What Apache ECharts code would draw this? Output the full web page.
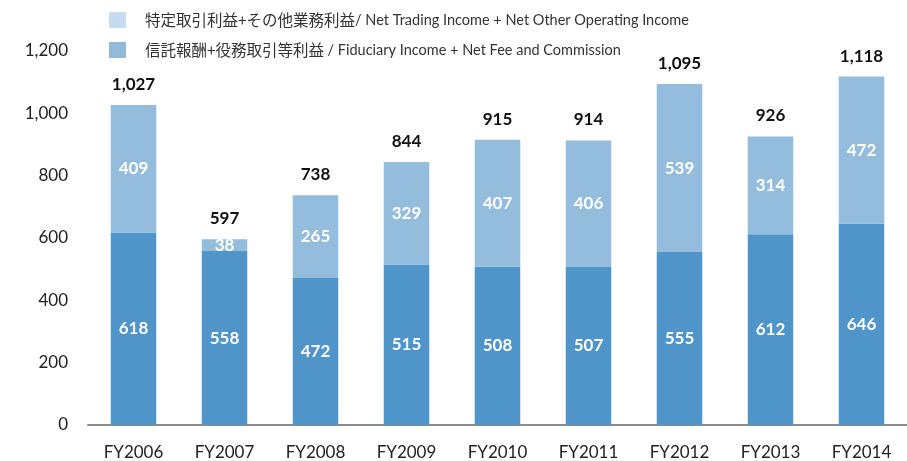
<!DOCTYPE html>
<html><head><meta charset="utf-8">
<script src="https://cdn.jsdelivr.net/npm/echarts@6/dist/echarts.min.js"></script>
<style>html,body{margin:0;padding:0;background:#fff}#c{width:907px;height:461px}</style>
</head><body><div id="c"></div>
<script>
const categories = ['FY2006','FY2007','FY2008','FY2009','FY2010','FY2011','FY2012','FY2013','FY2014'];
const fiduciaryFee = [618,558,472,515,508,507,555,612,646];
const tradingOther = [409,38,265,329,407,406,539,314,472];
const totals = [1027,597,738,844,915,914,1095,926,1118];
const yTicks = [0,200,400,600,800,1000,1200];
const nameTrading = '特定取引利益+その他業務利益/ Net Trading Income + Net Other Operating Income';
const nameFiduciary = '信託報酬+役務取引等利益 / Fiduciary Income + Net Fee and Commission';

const FONT = "Lato, 'Noto Sans CJK JP', sans-serif";
const chart = echarts.init(document.getElementById('c'));
const fmt = v => v.toLocaleString('en-US');
chart.setOption({
  animation: false,
  textStyle: {fontFamily: FONT},
  grid: {left: 88, top: 51, width: 824, height: 374},
  legend: {
    orient: 'vertical', left: 104, top: 7, itemGap: 14,
    itemWidth: 17, itemHeight: 16, icon: 'rect',
    formatter: n => {
      const i = n.indexOf('/');
      return '{cjk|' + n.slice(0, i) + '}{lat|' + n.slice(i) + '}';
    },
    textStyle: {fontFamily: FONT, fontSize: 14, color: '#333', padding: [0,0,0,14],
      rich: {
        cjk: {fontFamily: "'Noto Sans CJK JP', sans-serif", fontSize: 15.5, color: '#333'},
        lat: {fontFamily: FONT, fontSize: 14.5, color: '#333'}
      }},
    data: [
      {name: nameTrading, itemStyle: {color: '#c6dbee'}},
      {name: nameFiduciary, itemStyle: {color: '#93bad9'}}
    ]
  },
  xAxis: {
    type: 'category', data: categories,
    axisLine: {lineStyle: {color: '#8c8c8c', width: 2}},
    axisTick: {inside: true, length: 5, lineStyle: {color: '#8c8c8c', width: 1.5}},
    axisLabel: {fontSize: 17, color: '#222', margin: 19, fontFamily: FONT}
  },
  yAxis: {
    type: 'value', min: yTicks[0], max: yTicks[yTicks.length-1], interval: 200,
    axisLine: {show: false}, axisTick: {show: false}, splitLine: {show: false},
    axisLabel: {fontSize: 17, color: '#222', margin: 20, fontFamily: FONT, formatter: v => fmt(v)}
  },
  series: [
    {
      name: nameFiduciary, type: 'bar', stack: 's', barWidth: '50%', data: fiduciaryFee,
      itemStyle: {color: '#4f95c9'},
      label: {show: true, position: 'inside', color: '#fff', fontWeight: 'bold', fontSize: 17, fontFamily: FONT}
    },
    {
      name: nameTrading, type: 'bar', stack: 's', barWidth: '50%', data: tradingOther,
      itemStyle: {color: '#94bcdc'},
      label: {show: true, position: 'inside', color: '#fff', fontWeight: 'bold', fontSize: 17, fontFamily: FONT}
    },
    {
      name: 'total', type: 'bar', stack: 's', barWidth: '50%', data: totals.map(() => 0),
      itemStyle: {color: 'transparent'},
      label: {show: true, position: 'top', distance: 12, color: '#111', fontWeight: 'bold', fontSize: 17, fontFamily: FONT,
        formatter: p => fmt(totals[p.dataIndex])}
    }
  ]
});
</script></body></html>
